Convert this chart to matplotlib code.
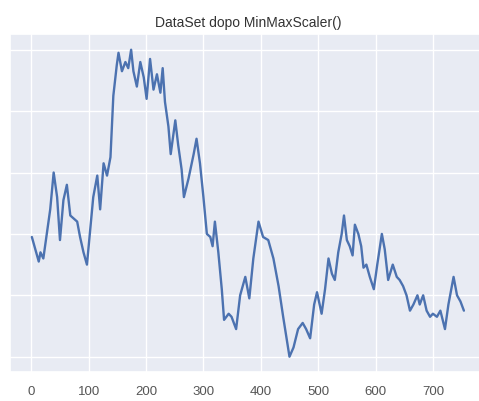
import matplotlib
matplotlib.use("Agg")
import matplotlib.pyplot as plt
import seaborn as sns

title = "DataSet dopo MinMaxScaler()"
xticks = [0, 100, 200, 300, 400, 500, 600, 700]
yticks = [0.0, 0.2, 0.4, 0.6, 0.8, 1.0]

idx = [1, 7, 13, 16, 21, 24, 33, 39, 45, 50, 56, 62, 68, 74, 80, 85, 91, 97,
       103, 108, 115, 120, 126, 132, 138, 143, 149, 152, 158, 164, 169, 174,
       178, 184, 190, 196, 201, 207, 213, 219, 225, 229, 233, 239, 243, 251,
       256, 262, 266, 274, 283, 288, 294, 300, 306, 312, 316, 320, 326, 332,
       336, 344, 349, 357, 364, 373, 380, 387, 396, 404, 413, 422, 431, 439,
       450, 457, 465, 473, 479, 486, 493, 498, 506, 512, 518, 524, 529, 535,
       541, 545, 550, 555, 560, 564, 570, 575, 579, 584, 590, 597, 603, 611,
       616, 622, 630, 637, 642, 648, 654, 660, 666, 673, 677, 683, 689, 695,
       700, 707, 713, 721, 727, 731, 736, 742, 748, 754]
vals = [0.39, 0.35, 0.31, 0.34, 0.32, 0.36, 0.48, 0.60, 0.52, 0.38, 0.51, 0.56,
        0.46, 0.45, 0.44, 0.39, 0.34, 0.30, 0.42, 0.52, 0.59, 0.48, 0.63, 0.59,
        0.65, 0.85, 0.95, 0.99, 0.93, 0.96, 0.94, 1.00, 0.93, 0.88, 0.96, 0.91,
        0.84, 0.97, 0.87, 0.92, 0.86, 0.94, 0.83, 0.75, 0.66, 0.77, 0.69, 0.61,
        0.52, 0.58, 0.66, 0.71, 0.63, 0.52, 0.40, 0.39, 0.36, 0.44, 0.34, 0.22,
        0.12, 0.14, 0.13, 0.09, 0.20, 0.26, 0.19, 0.32, 0.44, 0.39, 0.38, 0.32,
        0.23, 0.13, 0.00, 0.03, 0.09, 0.11, 0.09, 0.06, 0.17, 0.21, 0.14, 0.22,
        0.32, 0.27, 0.25, 0.34, 0.40, 0.46, 0.38, 0.36, 0.33, 0.43, 0.40, 0.36,
        0.29, 0.30, 0.26, 0.22, 0.30, 0.40, 0.35, 0.25, 0.30, 0.26, 0.25, 0.23,
        0.20, 0.15, 0.17, 0.20, 0.17, 0.20, 0.15, 0.13, 0.14, 0.13, 0.15, 0.09,
        0.17, 0.21, 0.26, 0.20, 0.18, 0.15]

sns.set_theme(style="darkgrid")
plt.rcParams['font.family'] = ['Liberation Sans', 'DejaVu Sans']

fig = plt.figure(figsize=(4.79, 4.02), dpi=100)
ax = fig.add_axes([0.021, 0.072, 0.993, 0.840])
ax.set_facecolor("#E8EBF3")
ax.plot(idx, vals, color="#4C72B0", linewidth=1.7)
ax.set_xticks(xticks)
ax.set_yticks(yticks)
ax.set_ylim(-0.05, 1.05)
ax.set_xlim(-37, 792)
ax.tick_params(axis='x', labelsize=9.5, pad=3, colors='#555555')
ax.tick_params(axis='y', labelleft=False)
ax.set_title(title, fontsize=10, pad=6, color='#333333')
fig.savefig("out.png", dpi=100)
